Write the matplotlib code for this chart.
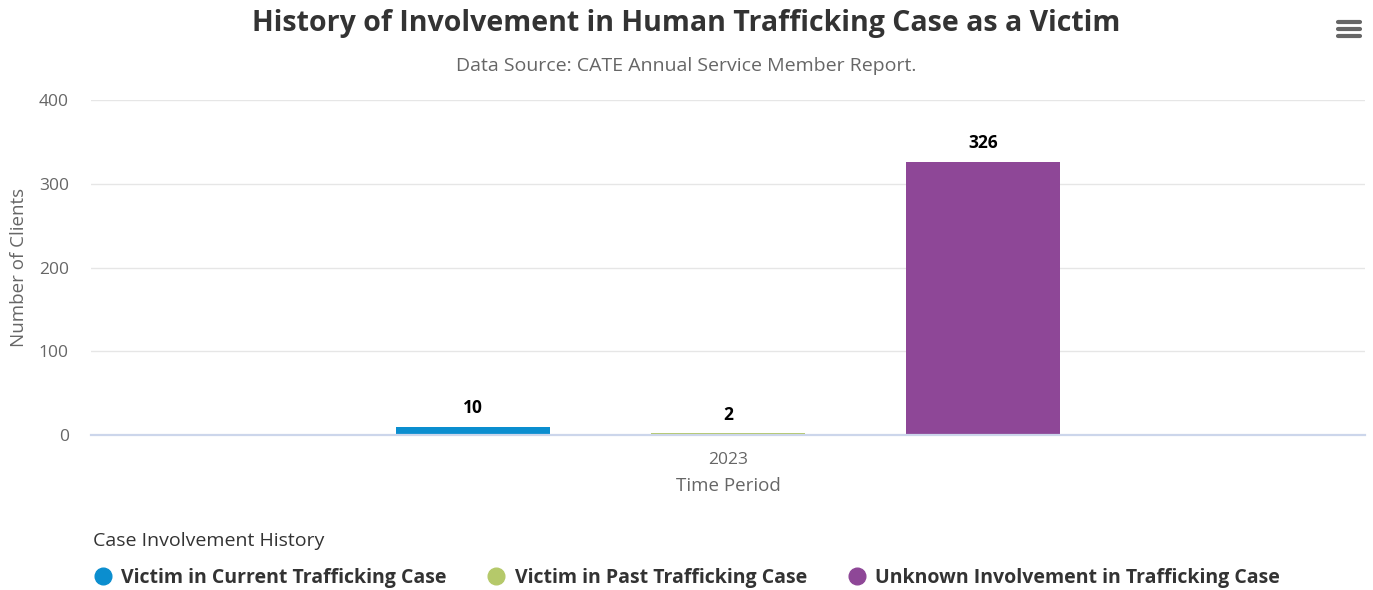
import matplotlib
matplotlib.use("Agg")
import matplotlib.pyplot as plt
from matplotlib.lines import Line2D

categories = ["2023"]
series_names = ["Victim in Current Trafficking Case",
                "Victim in Past Trafficking Case",
                "Unknown Involvement in Trafficking Case"]
series_values = [10, 2, 326]
series_colors = ["#0b8ecf", "#b5c96a", "#8e4797"]
yticks = [0, 100, 200, 300, 400]

FONT = ["Open Sans", "DejaVu Sans"]
plt.rcParams['font.family'] = FONT

W, H = 1373, 590
fig = plt.figure(figsize=(W / 100, H / 100), dpi=100)
ax = fig.add_axes([91 / W, 1 - 435 / H, (1365 - 91) / W, (435 - 100) / H])

n = len(series_values)
bar_w = 0.121
offsets = [(i - (n - 1) / 2) * 0.2 for i in range(n)]
for i, (name, val, col) in enumerate(zip(series_names, series_values, series_colors)):
    ax.bar(0 + offsets[i], val, width=bar_w, color=col, zorder=2, label=name)
    ax.annotate(str(val), (offsets[i], val), xytext=(0, 7), textcoords="offset points",
                ha="center", va="bottom", fontsize=12.5, fontweight="bold", color="#000000")

ax.set_xlim(-0.5, 0.5)
ax.set_ylim(0, 400)
ax.set_yticks(yticks)
ax.set_xticks([0])
ax.set_xticklabels(categories)
ax.grid(axis="y", color="#e6e6e6", linewidth=1, zorder=0)
for s in ["top", "right", "left"]:
    ax.spines[s].set_visible(False)
ax.spines["bottom"].set_color("#ccd6eb")
ax.spines["bottom"].set_linewidth(1.6)
ax.spines["bottom"].set_zorder(5)
ax.tick_params(axis="both", length=0, labelsize=12.5, colors="#666666")
ax.tick_params(axis="y", pad=16)
ax.tick_params(axis="x", pad=12)
ax.set_ylabel("Number of Clients", fontsize=13.5, color="#666666", labelpad=8)
ax.set_xlabel("Time Period", fontsize=13.5, color="#666666", labelpad=7)

fig.text(0.5, 1 - 24 / H, "History of Involvement in Human Trafficking Case as a Victim",
         ha="center", va="center", fontsize=20.5, fontweight="bold", color="#333333")
fig.text(0.5, 1 - 66 / H, "Data Source: CATE Annual Service Member Report.",
         ha="center", va="center", fontsize=14, color="#666666")

# menu icon
for yy in [22, 29, 36]:
    fig.add_artist(Line2D([1338 / W, 1360 / W], [1 - yy / H, 1 - yy / H],
                          color="#666666", linewidth=3, solid_capstyle="round"))

handles = [Line2D([], [], marker="o", linestyle="none", markersize=12,
                  markerfacecolor=c, markeredgecolor=c) for c in series_colors]
leg = fig.legend(handles, series_names, loc="upper left",
                 bbox_to_anchor=(93 / W, 1 - 532 / H), ncol=3, frameon=False,
                 title="Case Involvement History", alignment="left",
                 prop={"weight": "bold", "size": 14}, title_fontsize=14,
                 handletextpad=0.45, columnspacing=2.05, handlelength=1.0,
                 borderaxespad=0, borderpad=0, labelspacing=0.9)
leg.get_title().set_color("#333333")
for t in leg.get_texts():
    t.set_color("#333333")

fig.savefig("out.png", dpi=100)
